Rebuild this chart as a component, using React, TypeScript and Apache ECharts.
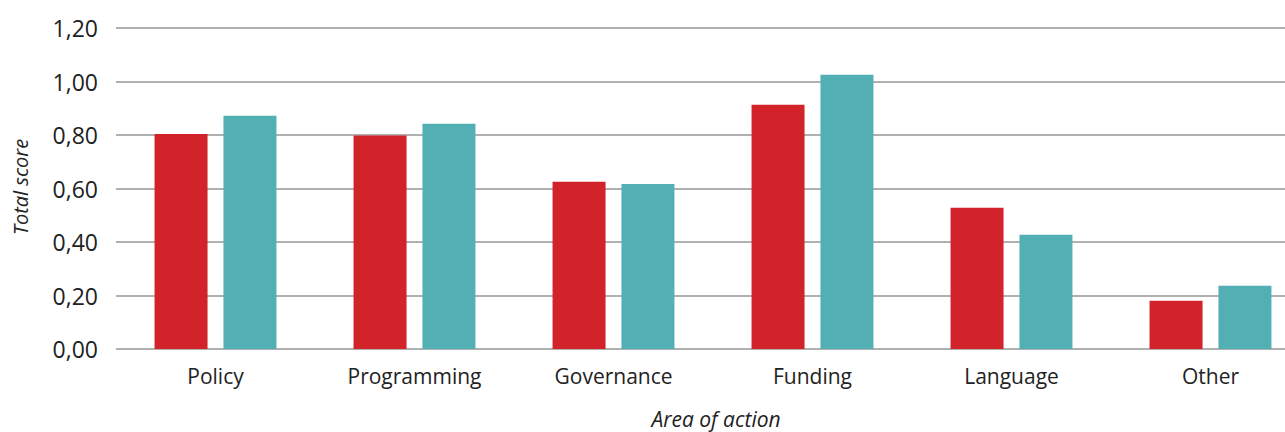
import React, { useEffect, useRef } from "react";
import * as echarts from "echarts";

const categories = ["Policy", "Programming", "Governance", "Funding", "Language", "Other"];
const seriesA = [0.804, 0.798, 0.625, 0.913, 0.528, 0.18];
const seriesB = [0.872, 0.842, 0.617, 1.025, 0.427, 0.236];
const colorA = "#D2232A";
const colorB = "#52AFB3";
const FONT = "'Open Sans', 'Noto Sans', sans-serif";

export default function App() {
  const ref = useRef<HTMLDivElement>(null);
  useEffect(() => {
    if (!ref.current) return;
    const chart = echarts.init(ref.current, null, { renderer: "svg" });
    chart.setOption({
      animation: false,
      backgroundColor: "#ffffff",
      grid: {
        left: 116,
        top: 28,
        width: 1194,
        height: 321,
        containLabel: false,
        outerBoundsMode: "none",
      },
      xAxis: {
        type: "category",
        data: categories,
        axisLine: { show: false },
        axisTick: { show: false },
        axisLabel: { color: "#222", fontSize: 21, fontFamily: FONT, margin: 16 },
      },
      yAxis: {
        type: "value",
        min: 0,
        max: 1.2,
        interval: 0.2,
        axisLine: { show: false },
        axisTick: { show: false },
        splitLine: { show: true, lineStyle: { color: "#b0b0b0", width: 1.8 } },
        axisLabel: {
          color: "#222",
          fontSize: 23,
          fontFamily: FONT,
          margin: 18,
          formatter: (v: number) => v.toFixed(2).replace(".", ","),
        },
      },
      graphic: [
        {
          type: "text",
          x: 20,
          y: 187,
          rotation: Math.PI / 2,
          style: {
            text: "Total score",
            fill: "#222",
            fontSize: 20,
            fontStyle: "italic",
            fontFamily: FONT,
            align: "center",
            verticalAlign: "middle",
          },
        },
        {
          type: "text",
          x: 716,
          y: 419,
          style: {
            text: "Area of action",
            fill: "#222",
            fontSize: 21,
            fontStyle: "italic",
            fontFamily: FONT,
            align: "center",
            verticalAlign: "middle",
          },
        },
      ],
      series: [
        {
          type: "bar",
          data: seriesA,
          itemStyle: { color: colorA },
          barWidth: 53,
          barGap: "30%",
        },
        {
          type: "bar",
          data: seriesB,
          itemStyle: { color: colorB },
          barWidth: 53,
          barGap: "30%",
        },
      ],
    });
    return () => chart.dispose();
  }, []);
  return (
    <div
      ref={ref}
      style={{ position: "fixed", left: 0, top: 0, width: 1285, height: 432 }}
    />
  );
}
